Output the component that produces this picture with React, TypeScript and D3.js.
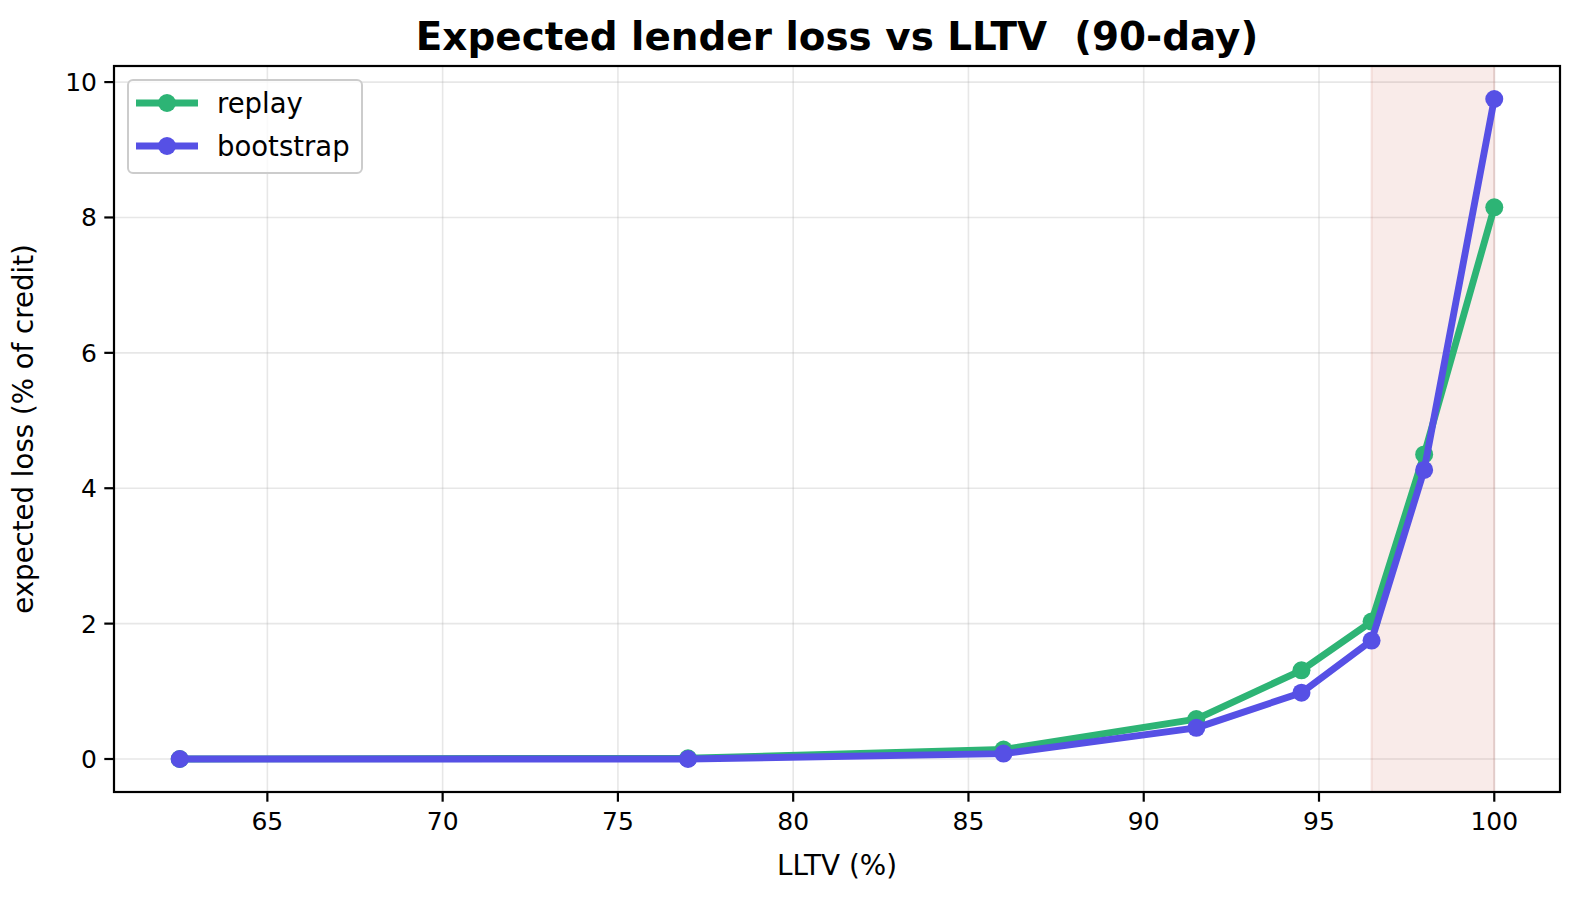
import * as d3 from "d3";
import { useEffect, useRef } from "react";

const LLTV = [62.5, 77, 86, 91.5, 94.5, 96.5, 98, 100];
const REPLAY = [0.0, 0.01, 0.14, 0.59, 1.31, 2.03, 4.5, 8.15];
const BOOTSTRAP = [0.0, 0.0, 0.08, 0.46, 0.98, 1.75, 4.27, 9.75];
const X_TICKS = [65, 70, 75, 80, 85, 90, 95, 100];
const Y_TICKS = [0, 2, 4, 6, 8, 10];
const SPAN = [96.5, 100];

const SERIES = [
  { name: "replay", values: REPLAY, color: "#2db475" },
  { name: "bootstrap", values: BOOTSTRAP, color: "#5650e5" },
];

const FONT = "'DejaVu Sans', sans-serif";

export default function App() {
  const svgRef = useRef<SVGSVGElement>(null);
  const width = 1580;
  const height = 899;

  useEffect(() => {
    if (!svgRef.current) return;
    const svg = d3.select(svgRef.current);
    svg.selectAll("*").remove();

    const margin = { top: 66, right: 20, bottom: 107, left: 114 };
    const w = width - margin.left - margin.right;
    const h = height - margin.top - margin.bottom;

    // matplotlib-style 5% padding
    const xPad = (d3.max(LLTV)! - d3.min(LLTV)!) * 0.05;
    const x = d3
      .scaleLinear()
      .domain([d3.min(LLTV)! - xPad, d3.max(LLTV)! + xPad])
      .range([0, w]);
    const yMax = Math.max(d3.max(REPLAY)!, d3.max(BOOTSTRAP)!);
    const y = d3
      .scaleLinear()
      .domain([-yMax * 0.05, yMax * 1.05])
      .range([h, 0]);

    svg.append("rect").attr("width", width).attr("height", height).attr("fill", "#fff");

    const g = svg
      .append("g")
      .attr("transform", `translate(${margin.left},${margin.top})`);

    // grid
    g.selectAll(".gx")
      .data(X_TICKS)
      .enter()
      .append("line")
      .attr("x1", (d) => x(d))
      .attr("x2", (d) => x(d))
      .attr("y1", 0)
      .attr("y2", h)
      .attr("stroke", "#b0b0b0")
      .attr("stroke-opacity", 0.3)
      .attr("stroke-width", 1.6);
    g.selectAll(".gy")
      .data(Y_TICKS)
      .enter()
      .append("line")
      .attr("x1", 0)
      .attr("x2", w)
      .attr("y1", (d) => y(d))
      .attr("y2", (d) => y(d))
      .attr("stroke", "#b0b0b0")
      .attr("stroke-opacity", 0.3)
      .attr("stroke-width", 1.6);

    // shaded region
    g.append("rect")
      .attr("x", x(SPAN[0]))
      .attr("y", 0)
      .attr("width", x(SPAN[1]) - x(SPAN[0]))
      .attr("height", h)
      .attr("fill", "rgba(192,57,43,0.1)")
      .attr("stroke", "rgba(192,57,43,0.12)")
      .attr("stroke-width", 2);

    // lines + markers
    const line = d3
      .line<number>()
      .x((_, i) => x(LLTV[i]))
      .y((d) => y(d));
    SERIES.forEach((s) => {
      g.append("path")
        .datum(s.values)
        .attr("d", line)
        .attr("fill", "none")
        .attr("stroke", s.color)
        .attr("stroke-width", 6.9)
        .attr("stroke-linejoin", "round")
        .attr("stroke-linecap", "square");
      g.selectAll(null)
        .data(s.values)
        .enter()
        .append("circle")
        .attr("cx", (_, i) => x(LLTV[i]))
        .attr("cy", (d) => y(d))
        .attr("r", 9)
        .attr("fill", s.color);
    });

    // frame
    g.append("rect")
      .attr("width", w)
      .attr("height", h)
      .attr("fill", "none")
      .attr("stroke", "#000")
      .attr("stroke-width", 2.2);

    // x ticks
    const xt = g
      .selectAll(".xt")
      .data(X_TICKS)
      .enter()
      .append("g")
      .attr("transform", (d) => `translate(${x(d)},${h})`);
    xt.append("line").attr("y2", 9.7).attr("stroke", "#000").attr("stroke-width", 2.2);
    xt.append("text")
      .attr("y", 38)
      .attr("text-anchor", "middle")
      .attr("font-family", FONT)
      .attr("font-size", 25)
      .attr("fill", "#000")
      .text((d) => d);

    // y ticks
    const yt = g
      .selectAll(".yt")
      .data(Y_TICKS)
      .enter()
      .append("g")
      .attr("transform", (d) => `translate(0,${y(d)})`);
    yt.append("line").attr("x2", -9.7).attr("stroke", "#000").attr("stroke-width", 2.2);
    yt.append("text")
      .attr("x", -17)
      .attr("dy", "0.36em")
      .attr("text-anchor", "end")
      .attr("font-family", FONT)
      .attr("font-size", 25)
      .attr("fill", "#000")
      .text((d) => d);

    // axis labels
    g.append("text")
      .attr("x", w / 2)
      .attr("y", h + 83)
      .attr("text-anchor", "middle")
      .attr("font-family", FONT)
      .attr("font-size", 27.8)
      .attr("fill", "#000")
      .text("LLTV (%)");
    g.append("text")
      .attr("transform", `translate(${-81},${h / 2}) rotate(-90)`)
      .attr("text-anchor", "middle")
      .attr("font-family", FONT)
      .attr("font-size", 27.6)
      .attr("fill", "#000")
      .text("expected loss (% of credit)");

    // title
    g.append("text")
      .attr("x", w / 2)
      .attr("y", -16)
      .attr("text-anchor", "middle")
      .attr("font-family", FONT)
      .attr("font-weight", "bold")
      .attr("font-size", 38.9)
      .attr("fill", "#000")
      .attr("xml:space", "preserve")
      .style("white-space", "pre")
      .text("Expected lender loss vs LLTV  (90-day)");

    // legend
    const legend = g.append("g").attr("transform", "translate(14,14)");
    legend
      .append("rect")
      .attr("width", 234)
      .attr("height", 93)
      .attr("rx", 5)
      .attr("fill", "rgba(255,255,255,0.8)")
      .attr("stroke", "#cccccc")
      .attr("stroke-width", 2);
    SERIES.forEach((s, i) => {
      const row = legend.append("g").attr("transform", `translate(0,${23 + i * 43})`);
      row.append("line")
        .attr("x1", 8)
        .attr("x2", 70)
        .attr("stroke", s.color)
        .attr("stroke-width", 6.9);
      row.append("circle").attr("cx", 39).attr("r", 9).attr("fill", s.color);
      row.append("text")
        .attr("x", 89)
        .attr("dy", "0.36em")
        .attr("font-family", FONT)
        .attr("font-size", 27.5)
        .attr("fill", "#000")
        .text(s.name);
    });
  }, []);

  return (
    <svg
      ref={svgRef}
      width={width}
      height={height}
      style={{ position: "absolute", left: 0, top: 0, display: "block" }}
    />
  );
}
